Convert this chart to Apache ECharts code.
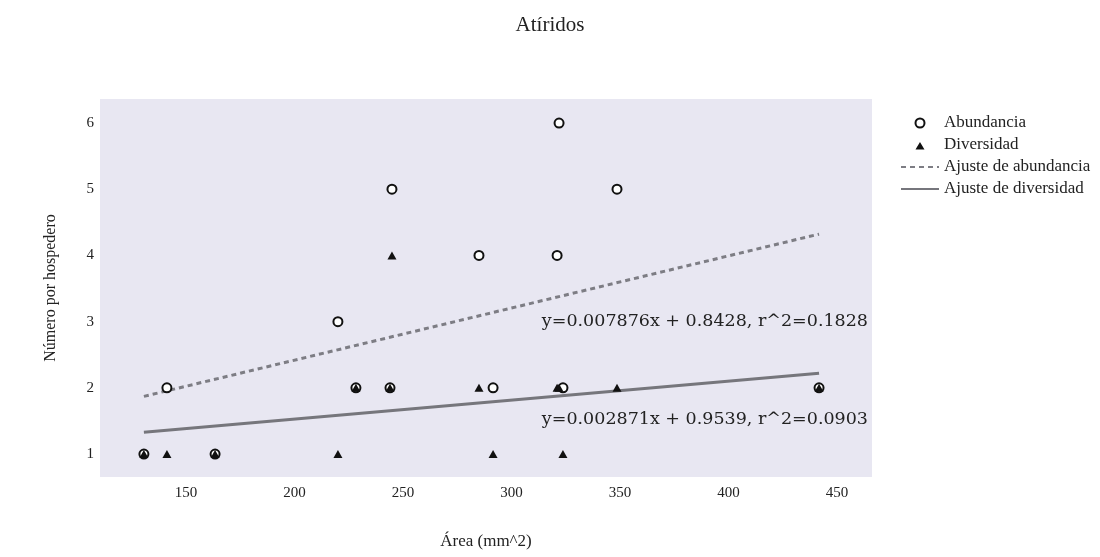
<!DOCTYPE html>
<html>
<head>
<meta charset="utf-8">
<script src="https://cdn.jsdelivr.net/npm/echarts@6/dist/echarts.min.js"></script>
<style>html,body{margin:0;padding:0;background:#fff}#c{width:1100px;height:557px}</style>
</head>
<body>
<div id="c"></div>
<script>
// Host area (mm^2) and counts per host
const areas       = [130.6, 141.2, 163.4, 220.0, 228.3, 244.0, 244.9, 285.0, 291.5, 321.0, 321.9, 323.7, 348.6, 441.7];
const abundancia  = [1, 2, 1, 3, 2, 2, 5, 4, 2, 4, 6, 2, 5, 2];
const diversidad  = [1, 1, 1, 1, 2, 2, 4, 2, 1, 2, 2, 1, 2, 2];
// Fit line endpoints
const fitAbundX = [130.6, 441.7];
const fitAbundY = [1.871, 4.322];
const fitDivX   = [130.6, 441.7];
const fitDivY   = [1.329, 2.222];
const xTicks = [150, 200, 250, 300, 350, 400, 450];
const yTicks = [1, 2, 3, 4, 5, 6];
const eqAbund = 'y=0.007876x + 0.8428, r^2=0.1828';
const eqDiv   = 'y=0.002871x + 0.9539, r^2=0.0903';

const serif = 'Liberation Serif';
// legend triangle icon: small triangle centred in a 38x9 box
const triIcon = 'path://M0,9L0.01,9Z M14.5,9L19,1.5L23.5,9Z M38,0L38.01,0Z';
const chart = echarts.init(document.getElementById('c'), null, {renderer: 'canvas'});
chart.setOption({
  animation: false,
  title: {text: 'Atíridos', left: 'center', top: 10,
    textStyle: {fontFamily: serif, fontSize: 21, fontWeight: 'normal', color: '#222'}},
  grid: {left: 100, right: 228, top: 99, bottom: 80, show: true,
    backgroundColor: '#e8e7f2', borderWidth: 0},
  legend: {
    orient: 'vertical', left: 895, top: 107, itemWidth: 38, itemHeight: 9, itemGap: 0,
    data: [
      {name: 'Abundancia'},
      {name: 'Diversidad', icon: triIcon, itemStyle: {color: '#111'}},
      {name: 'Ajuste de abundancia', itemStyle: {opacity: 0}},
      {name: 'Ajuste de diversidad', itemStyle: {opacity: 0}}
    ],
    textStyle: {fontFamily: serif, fontSize: 17, color: '#222', lineHeight: 22, padding: [0, 0, 0, 0]}
  },
  xAxis: {
    type: 'value', min: 110.37, max: 466.1,
    name: 'Área (mm^2)', nameLocation: 'middle', nameGap: 56,
    nameTextStyle: {fontFamily: serif, fontSize: 17, color: '#222'},
    axisLine: {show: false}, axisTick: {show: false}, splitLine: {show: false},
    axisLabel: {customValues: xTicks, fontFamily: serif, fontSize: 15, color: '#222', margin: 9}
  },
  yAxis: {
    type: 'value', min: 0.653, max: 6.363,
    name: 'Número por hospedero', nameLocation: 'middle', nameGap: 41,
    nameTextStyle: {fontFamily: serif, fontSize: 16, color: '#222'},
    axisLine: {show: false}, axisTick: {show: false}, splitLine: {show: false},
    axisLabel: {customValues: yTicks, fontFamily: serif, fontSize: 15, color: '#222', margin: 6}
  },
  series: [
    {name: 'Abundancia', type: 'scatter', symbol: 'emptyCircle', symbolSize: 9, symbolKeepAspect: true,
      itemStyle: {color: '#111', borderColor: '#111', borderWidth: 1.6, opacity: 1},
      data: areas.map((x, i) => [x, abundancia[i]]), z: 3},
    {name: 'Diversidad', type: 'scatter', symbol: 'triangle', symbolSize: [9, 8], symbolKeepAspect: true,
      itemStyle: {color: '#111', opacity: 1},
      data: areas.map((x, i) => [x, diversidad[i]]), z: 4},
    {name: 'Ajuste de abundancia', type: 'line', symbol: 'none',
      lineStyle: {color: '#7d7d84', width: 3, type: [5, 4]},
      itemStyle: {color: '#7d7d84'},
      data: fitAbundX.map((x, i) => [x, fitAbundY[i]]), z: 2},
    {name: 'Ajuste de diversidad', type: 'line', symbol: 'none',
      lineStyle: {color: '#76767c', width: 3},
      itemStyle: {color: '#76767c'},
      data: fitDivX.map((x, i) => [x, fitDivY[i]]), z: 2}
  ],
  graphic: [
    {type: 'text', right: 1100 - 868, top: 312, style: {text: eqAbund, font: '17.5px "DejaVu Serif"', fill: '#222'}},
    {type: 'text', right: 1100 - 868, top: 410, style: {text: eqDiv, font: '17.5px "DejaVu Serif"', fill: '#222'}}
  ]
});
</script>
</body>
</html>
